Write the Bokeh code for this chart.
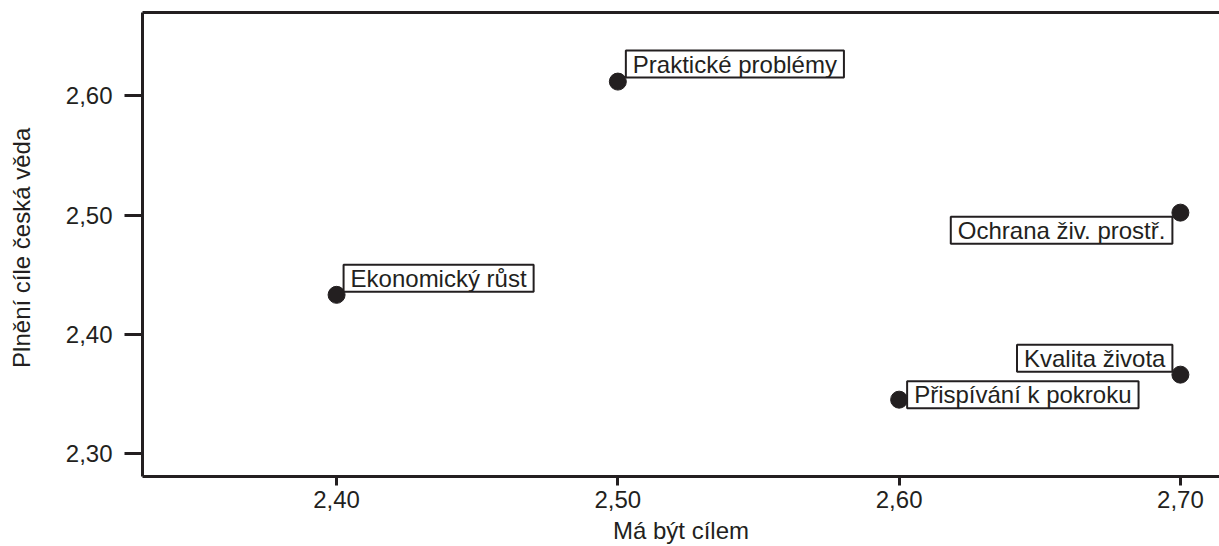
from bokeh.plotting import figure
from bokeh.models import ColumnDataSource, LinearAxis, Range1d, FixedTicker, CustomJSTickFormatter
from bokeh.core.properties import value
from bokeh.embed import file_html
from bokeh.resources import INLINE

# Data
labels = ["Praktické problémy", "Ekonomický růst", "Ochrana živ. prostř.", "Kvalita života", "Přispívání k pokroku"]
x_vals = [2.50, 2.40, 2.70, 2.70, 2.60]
y_vals = [2.612, 2.433, 2.502, 2.366, 2.345]
x_ticks = [2.40, 2.50, 2.60, 2.70]
y_ticks = [2.30, 2.40, 2.50, 2.60]
x_title = "Má být cílem"
y_title = "Plnění cíle česká  věda"

# Label placement (styles)
aligns = ["left", "left", "right", "right", "left"]
baselines = ["bottom", "bottom", "top", "bottom", "middle"]
x_offs = [8, 7, -8, -8, 8]
y_offs = [-4, -3, 4, -3, -5]

FONT = "Liberation Sans"
DARK = "#231f20"
FS = "24px"

src = ColumnDataSource(dict(x=x_vals, y=y_vals, label=labels, align=aligns,
                            baseline=baselines, xo=x_offs, yo=y_offs))

p = figure(width=1219, height=546, output_backend="svg", toolbar_location=None,
           x_range=Range1d(2.331, 2.7139), y_range=Range1d(2.2805, 2.670),
           min_border_left=142, min_border_right=0, min_border_top=12, min_border_bottom=68)
p.outline_line_color = None
p.xgrid.visible = False
p.ygrid.visible = False
p.background_fill_color = "white"
p.border_fill_color = "white"

fmt = CustomJSTickFormatter(code="return tick.toFixed(2).replace('.', ',');")
for ax, ticks in ((p.xaxis[0], x_ticks), (p.yaxis[0], y_ticks)):
    ax.ticker = FixedTicker(ticks=ticks)
    ax.formatter = fmt
    ax.axis_line_width = 3
    ax.axis_line_color = DARK
    ax.major_tick_line_width = 3
    ax.major_tick_line_color = DARK
    ax.major_tick_in = 0
    ax.minor_tick_line_color = None
    ax.major_label_text_font = FONT
    ax.major_label_text_font_size = FS
    ax.major_label_text_color = DARK
    ax.axis_label_text_font = FONT
    ax.axis_label_text_font_size = FS
    ax.axis_label_text_font_style = "normal"
    ax.axis_label_text_color = DARK

p.xaxis[0].axis_label = x_title
p.xaxis[0].major_tick_out = 9
p.xaxis[0].major_label_standoff = 5
p.xaxis[0].axis_label_standoff = 6
p.yaxis[0].axis_label = y_title
p.yaxis[0].major_tick_out = 18
p.yaxis[0].major_label_standoff = 12
p.yaxis[0].axis_label_standoff = 28

top = LinearAxis(ticker=FixedTicker(ticks=[]), axis_line_width=3, axis_line_color=DARK,
                 major_tick_line_color=None, minor_tick_line_color=None,
                 major_label_text_font_size="0px")
p.add_layout(top, "above")

p.scatter("x", "y", source=src, size=17, color=DARK)

p.text(x="x", y="y", text="label", source=src,
       x_offset="xo", y_offset="yo",
       text_align="align", text_baseline="baseline",
       text_font=value(FONT), text_font_size=FS, text_color=DARK,
       background_fill_color="white", border_line_color=DARK, border_line_width=2,
       padding=[7, 0])

open("out.html", "w").write(file_html(p, INLINE))
